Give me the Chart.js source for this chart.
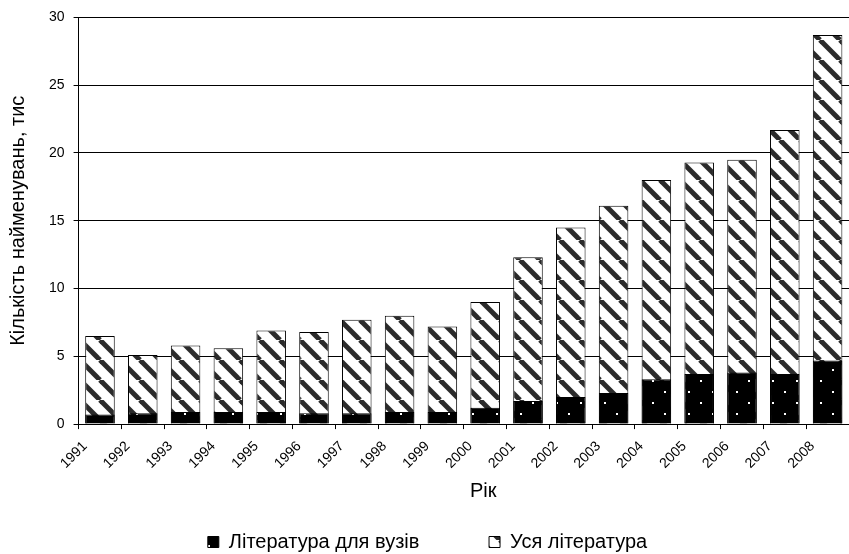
<!DOCTYPE html>
<html>
<head>
<meta charset="utf-8">
<script src="https://cdn.jsdelivr.net/npm/chart.js"></script>
<style>
  html, body { margin: 0; padding: 0; background: #fff; }
  #wrap { width: 849px; height: 554px; }
</style>
</head>
<body>
<div id="wrap"><canvas id="chart"></canvas></div>
<script>
  const years = ['1991', '1992', '1993', '1994', '1995', '1996', '1997', '1998', '1999',
                 '2000', '2001', '2002', '2003', '2004', '2005', '2006', '2007', '2008'];
  // тис. найменувань
  const vuzy = [0.7, 0.8, 0.9, 0.9, 0.9, 0.8, 0.8, 0.9, 0.9, 1.2, 1.7, 2.0, 2.3, 3.3, 3.7, 3.8, 3.7, 4.7];
  const vsia = [6.5, 5.1, 5.8, 5.6, 6.9, 6.8, 7.7, 8.0, 7.2, 9.0, 12.3, 14.5, 16.1, 18.0, 19.3, 19.5, 21.7, 28.7];
  const yTicks = [0, 5, 10, 15, 20, 25, 30];

  const FONT = 'Liberation Sans, Arial, sans-serif';

  // діагональне штрихування
  function hatch() {
    const s = 20;
    const c = document.createElement('canvas');
    c.width = s; c.height = s;
    const g = c.getContext('2d');
    g.fillStyle = '#fff';
    g.fillRect(0, 0, s, s);
    g.strokeStyle = '#2b2b2b';
    g.lineWidth = 5;
    for (const o of [-s, 0, s]) {
      g.beginPath();
      g.moveTo(o, 0);
      g.lineTo(o + s, s);
      g.stroke();
    }
    return g.createPattern(c, 'repeat');
  }

  // чорне з білими точками
  function dots() {
    const w = 24, h = 22;
    const c = document.createElement('canvas');
    c.width = w; c.height = h;
    const g = c.getContext('2d');
    g.fillStyle = '#000';
    g.fillRect(0, 0, w, h);
    g.fillStyle = '#fff';
    g.fillRect(4, 6, 2, 2);
    g.fillRect(16, 17, 2, 2);
    return g.createPattern(c, 'repeat');
  }

  new Chart(document.getElementById('chart'), {
    type: 'bar',
    data: {
      labels: years,
      datasets: [{
        label: 'Література для вузів',
        data: vuzy,
        backgroundColor: dots(),
        borderColor: '#000',
        borderWidth: 1,
        order: 0
      }, {
        label: 'Уся література',
        data: vsia,
        backgroundColor: hatch(),
        borderColor: '#000',
        borderWidth: 1,
        order: 1
      }]
    },
    options: {
      responsive: true,
      maintainAspectRatio: false,
      animation: false,
      datasets: {
        bar: { grouped: false, barPercentage: 0.69, categoryPercentage: 1 }
      },
      layout: { padding: { top: 16, right: -6, bottom: -8, left: 0 } },
      plugins: {
        tooltip: { enabled: false },
        legend: {
          position: 'bottom',
          labels: {
            color: '#000',
            font: { family: FONT, size: 20 },
            boxWidth: 11,
            boxHeight: 11,
            padding: 3,
            generateLabels(chart) {
              const items = Chart.defaults.plugins.legend.labels.generateLabels(chart);
              items.forEach(it => { it.lineWidth = 1; it.strokeStyle = '#000'; });
              items[0].text = items[0].text + ' '.repeat(12);
              return items;
            }
          }
        }
      },
      scales: {
        x: {
          grid: { drawOnChartArea: false, drawTicks: true, tickLength: 5, color: '#000', offset: true },
          border: { color: '#000' },
          ticks: {
            color: '#000',
            font: { family: FONT, size: 14 },
            minRotation: 45,
            maxRotation: 45,
            autoSkip: false,
            padding: 9,
            labelOffset: -15
          },
          title: {
            display: true,
            text: '       Рік',
            color: '#000',
            font: { family: FONT, size: 20 },
            padding: { top: -2, bottom: 26 }
          }
        },
        y: {
          min: 0,
          max: 30,
          afterBuildTicks(scale) { scale.ticks = yTicks.map(v => ({ value: v })); },
          grid: { color: '#000', tickLength: 5 },
          border: { color: '#000' },
          ticks: { color: '#000', font: { family: FONT, size: 14 }, padding: 9 },
          title: {
            display: true,
            text: 'Кількість найменувань, тис',
            color: '#000',
            font: { family: FONT, size: 20 },
            padding: { top: 6, bottom: 10 }
          }
        }
      }
    }
  });
</script>
</body>
</html>
